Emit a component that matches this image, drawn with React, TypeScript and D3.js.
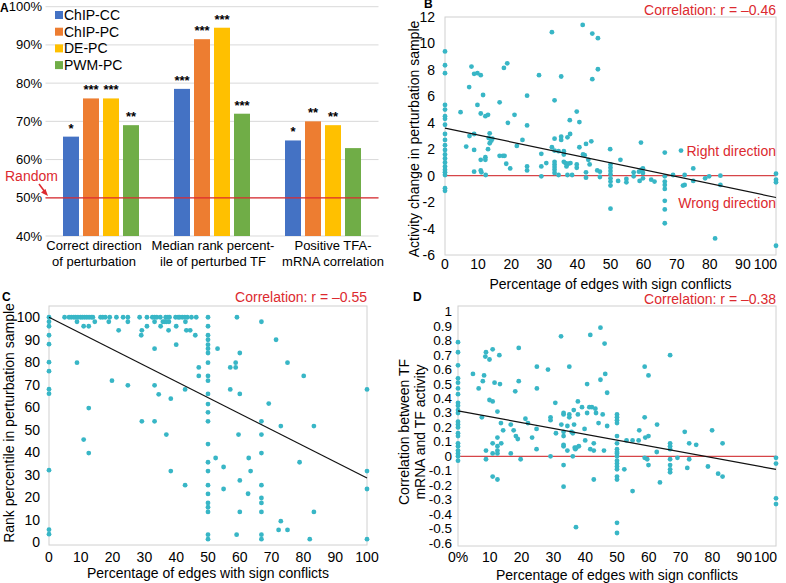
import React from 'react'
import * as d3 from 'd3'

const FONT = '"Liberation Sans", Arial, Helvetica, sans-serif'
const RED = '#dc2a2f'
const LINE_RED = '#d64548'
const DOT = '#38b6c6'

// ---- panel A data ----
const categoryLines = [
  ['Correct direction', 'of perturbation'],
  ['Median rank percent-', 'ile of perturbed TF'],
  ['Positive TFA-', 'mRNA correlation'],
]
const seriesNames = ['ChIP-CC', 'ChIP-PC', 'DE-PC', 'PWM-PC']
const seriesColors = ['#4472C4', '#ED7D31', '#FFC000', '#70AD47']
const chipCC = [66, 78.5, 65]
const chipPC = [76, 91.5, 70]
const dePC = [76, 94.5, 69]
const pwmPC = [69, 72, 63]
const chipCCStars = ['*', '***', '*']
const chipPCStars = ['***', '***', '**']
const dePCStars = ['***', '***', '**']
const pwmPCStars = ['**', '***', '']
const aTicks = [40, 50, 60, 70, 80, 90, 100]
const randomLevel = 50

// ---- panel B data: [% edges with sign conflicts, activity change] ----
const bPoints: [number, number][] = [
  [0, 9.4], [0, 8.35], [0, 7.75], [0, 5.35], [0, 5.0], [0, 4.5], [0, 4.3], [0, 3.85], [0, 3.15], [0, 2.7], [0, 2.3],
  [0, 1.95], [0, 1.6], [0, 1.3], [0, 1.0], [0, 0.7], [0, 0.45], [0, 0.25], [0, 0.05], [0, -0.95], [0, -1.15],
  [4.7, 4.8], [6.4, 2.2], [7.3, 6.7], [7.4, 3.0], [8.0, 8.25], [8.8, 7.7], [8.8, 3.15], [8.8, 1.95], [8.8, 0.3],
  [9.8, 7.75], [9.8, 5.35], [10.8, 7.6], [10.8, 4.7], [10.8, 1.2], [10.8, 0.4], [11.0, 0.25], [11.5, 6.1], [12.2, 4.5],
  [12.2, 1.4], [12.2, 1.2], [12.3, 0.05], [13.0, 4.6], [13.5, 3.2], [13.2, 2.85], [13.5, 2.45], [13.0, 2.0], [14.0, 2.65],
  [14.3, 2.8], [16.5, 5.55], [16.5, 1.5], [17.5, 1.5], [18.0, 1.5], [17.8, 8.15], [18.8, 8.5], [18.5, 0.9], [19.0, 4.0],
  [19.7, 0.55], [21.0, 4.6], [21.7, 2.25], [23.4, 2.7], [24.8, 6.05], [24.8, 3.8], [24.8, 0.7], [24.8, 0.4],
  [28.4, 7.6], [29.1, 1.65], [29.1, 0.7], [29.1, -0.05], [30.6, 0.95], [32.3, 10.85], [33.1, 5.7], [33.1, 2.8],
  [32.3, 2.15], [33.1, 1.9], [33.1, 1.05], [33.1, 0.85], [33.1, 0.65], [33.1, 0.45], [33.1, 0.2], [34.3, 1.85],
  [34.3, 0.05], [35.1, 7.5], [35.1, 2.95], [35.1, 2.7], [35.9, 1.85], [35.9, 1.6], [35.9, 1.05], [36.4, 0.95],
  [36.7, 0.7], [37.0, 2.9], [37.8, 3.15], [37.7, 4.2], [37.2, 0.9], [37.9, 0.95], [37.0, 0.05], [38.4, 0.05],
  [39.8, 4.85], [40.6, 4.05], [40.6, 2.15], [39.8, 0.85], [39.8, 0.6], [41.6, 11.4], [41.7, 1.6], [42.2, 1.55],
  [42.6, 2.4], [42.6, 0.25], [42.6, -0.15], [44.2, 2.6], [43.7, 0.85], [43.3, 1.2], [44.5, 10.75], [44.5, 7.3],
  [46.2, 10.4], [46.2, 8.05], [46.0, 0.4], [46.8, 0.3], [46.8, -0.1],
  [49.9, 2.0], [50, 0.85], [50, 0.6], [50, 0.35], [50, 0.1], [50, -0.2], [50, -0.45], [50, -0.75], [50, -2.5],
  [52.3, -0.4], [53.0, 1.2], [54.8, -0.25], [54.8, -0.5], [57.0, 0.25], [57.0, -0.05], [58.6, 0.3], [58.8, -0.4],
  [59.2, 2.5], [59.3, 0.45], [59.8, 0.55], [59.8, 0.2], [59.8, -0.2], [62.3, -0.3], [63.3, -0.45],
  [66.4, 1.75], [66.4, -0.05], [66.4, -0.45], [66.4, -0.7], [66.4, -1.0], [66.4, -1.9], [66.4, -2.55], [66.4, -3.6],
  [68.9, 0.05], [71.3, 1.9], [72.4, 0.05], [72.4, -0.7], [71.9, -0.75], [75.0, 0.55], [75.0, -0.4], [78.6, -0.2],
  [79.8, -0.05], [81.6, -4.75], [83.2, 0], [83.2, -0.7], [100, 0.15], [100, -0.3], [100, -0.5], [100, -5.3],
]
const bFit = [3.6, -1.65]
const bTicksY = [-6, -4, -2, 0, 2, 4, 6, 8, 10, 12]

// ---- panel C data: [% edges with sign conflicts, rank percentile] ----
const cPoints: [number, number][] = [
  [0, 100], [0, 98], [0, 96], [0, 92], [0, 88], [0, 80], [0, 76], [0, 68], [0, 66], [0, 32], [0, 5.5], [0, 3.5],
  [4.9, 100], [6.3, 100], [7.0, 100], [7.8, 100], [8.4, 100], [9.1, 100], [9.9, 100], [10.5, 100], [11.2, 100],
  [11.9, 100], [12.6, 100], [13.3, 100], [13.8, 100], [16.2, 100], [16.9, 100], [17.7, 100], [19.1, 100], [21.2, 100],
  [23.3, 100], [24.8, 100], [28.5, 100], [30.8, 100], [32.5, 100], [33.2, 100], [33.9, 100], [35.0, 100], [36.7, 100],
  [37.4, 100], [37.9, 100], [39.8, 100], [40.6, 100], [41.1, 100], [41.9, 100], [42.7, 100], [43.5, 100], [44.8, 100],
  [46.3, 100],
  [8.8, 98], [14.4, 98], [18.8, 98], [24.8, 98], [33.2, 98], [35.8, 98], [36.4, 98], [36.9, 98], [37.7, 98], [42.9, 98],
  [10.9, 96], [12.5, 96], [30.8, 96], [35.1, 96], [40.0, 96],
  [21.9, 94.2], [29.2, 94.2], [37.6, 94.2], [43.2, 94.2], [44.4, 94.2], [29.0, 92], [46.0, 92],
  [40.0, 87.8], [33.2, 86], [8.8, 79.8], [47.1, 77.7], [47.1, 73.9], [19.8, 71.8], [24.8, 69.7], [33.2, 69.7],
  [42.8, 67.9], [34.5, 65.7], [38.3, 63.8], [12.5, 59.6], [29.2, 53.7], [33.2, 53.7], [36.9, 47.8], [10.9, 45.6],
  [12.5, 39.6], [38.3, 31.6], [42.8, 25.3],
  [50, 100], [50, 96], [50, 92], [50, 90], [50, 87.8], [50, 86], [50, 84.1], [50, 79.8], [50, 73.9], [50, 71.8],
  [50, 65.9], [50, 61.4], [50, 57.7], [50, 53.7], [50, 43.6], [50, 35.5], [50, 31.6], [50, 25.3], [50, 21.4],
  [50, 17.4], [50, 15.5], [50, 13.4], [50, 3.3], [50, 1.3],
  [53.0, 86], [52.4, 37.4], [54.9, 33.4], [54.9, 23.6], [57.0, 77.7], [57.0, 67.9], [58.7, 79.8], [58.7, 77.7],
  [59.1, 100], [59.0, 3.3], [59.6, 47.8], [60.0, 84.1], [60.0, 65.9], [60.0, 27.4], [60.0, 13.4], [62.6, 21.5],
  [62.8, 37.4], [63.4, 31.6], [66.8, 98], [66.8, 53.7], [66.8, 47.8], [66.8, 39.6], [66.8, 25.3], [66.8, 19.6],
  [66.8, 17.4], [66.8, 13.4], [66.8, 3.3], [66.8, 1.3], [69.1, 61.6], [71.4, 90], [72.2, 5.4], [72.9, 9.3],
  [72.9, 51.6], [75.0, 79.8], [75.0, 5.4], [78.8, 35.5], [80.1, 73.9], [82.0, 1.3], [83.3, 51.6], [83.3, 13.4],
  [100, 67.9], [100, 31.6], [100, 23.6], [100, 1.3],
]
const cFit = [100, 28.5]
const cTicksY = [0, 10, 20, 30, 40, 50, 60, 70, 80, 90, 100]

// ---- panel D data: [% edges with sign conflicts, TF mRNA vs activity correlation] ----
const dPoints: [number, number][] = [
  [0, 0.79], [0, 0.72], [0, 0.63], [0, 0.54], [0, 0.51], [0, 0.47], [0, 0.43], [0, 0.37], [0, 0.35], [0, 0.32],
  [0, 0.3], [0, 0.24], [0, 0.22], [0, 0.2], [0, 0.16], [0, 0.14], [0, 0.09], [0, 0.07], [0, 0.04], [0, 0.02],
  [0, 0.0], [0, -0.03],
  [4.7, 0.57], [6.5, 0.47], [7.5, 0.27], [7.8, 0.52], [8.2, 0.56], [8.6, 0.69], [8.8, 0.72], [8.8, 0.04], [8.8, -0.02],
  [9.9, 0.67], [9.9, 0.39], [10.9, 0.74], [10.9, 0.38], [10.9, 0.09], [10.9, 0.02], [10.9, -0.14], [11.5, 0.51],
  [12.4, 0.31], [12.4, 0.13], [12.4, 0.07], [12.4, 0.04], [12.4, 0.02], [12.4, -0.16], [13.0, 0.7], [13.2, 0.5],
  [13.5, 0.23], [13.6, 0.09], [14.2, 0.18], [16.6, 0.22], [16.6, 0.02], [17.5, 0.18], [18.0, 0.45], [18.2, 0.14],
  [18.8, 0.12], [19.1, 0.75], [19.1, 0.52], [19.7, -0.02], [21.2, 0.26], [22.0, 0.23], [23.3, 0.13], [24.8, 0.62],
  [24.8, 0.47], [24.7, 0.19], [24.7, 0.05], [28.3, 0.6], [29.1, 0.27], [29.1, 0.25], [29.1, 0.0], [30.6, 0.37],
  [30.8, 0.16], [32.4, 0.83], [32.5, 0.22], [33.2, 0.3], [33.2, 0.29], [33.2, 0.17], [33.2, 0.14], [33.2, 0.08],
  [33.2, 0.07], [33.2, -0.06], [33.2, -0.21], [34.4, 0.21], [34.4, 0.04], [35.0, 0.62], [35.0, 0.29], [35.0, 0.27],
  [35.7, 0.17], [36.1, 0.16], [36.1, 0.0], [36.4, 0.32], [36.5, 0.22], [36.7, 0.06], [36.9, 0.05], [37.1, -0.49],
  [37.2, 0.06], [37.7, 0.38], [37.7, 0.29], [38.0, 0.07], [39.0, 0.34], [39.8, 0.19], [40.0, 0.11], [40.6, 0.5],
  [40.6, 0.3], [41.3, 0.34], [41.6, 0.84], [41.6, 0.05], [42.1, 0.34], [42.7, 0.04], [42.7, -0.16], [42.7, 0.09],
  [43.2, 0.33], [43.4, 0.3], [44.2, 0.23], [44.8, 0.89], [44.8, 0.53], [45.5, 0.29], [45.9, 0.04], [46.1, 0.78],
  [46.3, 0.57], [46.9, 0.44], [46.9, 0.21],
  [50, 0.29], [50, 0.27], [50, 0.25], [50, 0.23], [50, 0.14], [50, 0.09], [50, 0.05], [50, 0.03], [50, 0.02],
  [50, 0.0], [50, -0.03], [50, -0.05], [50, -0.07], [50, -0.09], [50, -0.14], [50, -0.16], [50, -0.46], [50, -0.53],
  [52.3, -0.09], [53.0, 0.11], [54.9, 0.11], [54.9, -0.24], [56.8, 0.11], [57.0, 0.18], [58.7, 0.62], [58.7, 0.27],
  [58.7, -0.01], [58.9, 0.13], [59.5, -0.02], [59.9, 0.56], [59.9, 0.14], [59.9, -0.06], [62.6, 0.22], [62.5, 0.03],
  [63.5, -0.18], [66.7, 0.7], [66.7, 0.09], [66.7, 0.07], [66.7, 0.05], [66.7, -0.02], [66.7, -0.06], [66.7, -0.09],
  [66.7, -0.11], [69.0, -0.01], [71.3, 0.17], [72.1, -0.08], [72.7, 0.09], [72.7, -0.02], [74.9, 0.08], [78.6, -0.07],
  [79.9, 0.18], [81.8, -0.12], [83.2, 0.09], [83.2, -0.14], [100, -0.01], [100, -0.05], [100, -0.29], [100, -0.33],
]
const dFit = [0.315, -0.09]
const dTicksY = [-0.6, -0.5, -0.4, -0.3, -0.2, -0.1, 0, 0.1, 0.2, 0.3, 0.4, 0.5, 0.6, 0.7, 0.8, 0.9, 1]

const xTicks = [0, 10, 20, 30, 40, 50, 60, 70, 80, 90, 100]
const xTitle = 'Percentage of edges with sign conflicts'

function BarPanel() {
  const y = d3.scaleLinear().domain([40, 100]).range([236, 6.7])
  const x0 = d3.scaleBand<number>().domain([0, 1, 2]).range([45.5, 378.5])
  const x1 = d3.scaleBand().domain(seriesNames).range([17.5, 93.5]).paddingInner(0.2)
  // Excel nudged the wrapped category labels a little off the group centres
  const labelShift = [-7, 1, 10]
  const series = [
    { name: 'ChIP-CC', values: chipCC, stars: chipCCStars },
    { name: 'ChIP-PC', values: chipPC, stars: chipPCStars },
    { name: 'DE-PC', values: dePC, stars: dePCStars },
    { name: 'PWM-PC', values: pwmPC, stars: pwmPCStars },
  ]
  return (
    <g>
      {aTicks.map(t => (
        <g key={t}>
          <line x1={45.5} x2={378.5} y1={y(t)} y2={y(t)} stroke="#d9d9d9" />
          <text x={42} y={y(t)} textAnchor="end" dominantBaseline="central" fontSize={13}>{t}%</text>
        </g>
      ))}
      <text x={0} y={12} fontSize={12} fontWeight="bold">A</text>
      {series.map((s, i) =>
        s.values.map((v, j) => {
          const bx = (x0(j) ?? 0) + (x1(s.name) ?? 0)
          return (
            <g key={s.name + j}>
              <rect x={bx} y={y(v)} width={x1.bandwidth()} height={y(40) - y(v)} fill={seriesColors[i]} />
              <text x={bx + x1.bandwidth() / 2} y={y(v) - 4} textAnchor="middle" fontSize={13} fontWeight="bold">{s.stars[j]}</text>
            </g>
          )
        })
      )}
      <line x1={45.5} x2={378.5} y1={y(randomLevel)} y2={y(randomLevel)} stroke={RED} strokeWidth={1.3} />
      <text x={5} y={176} dominantBaseline="central" fontSize={14} fill={RED}>Random</text>
      <line x1={39} y1={184} x2={45} y2={192} stroke={RED} strokeWidth={1.5} />
      <path d="M48,196 L41,192.5 L45.5,189 Z" fill={RED} />
      {categoryLines.map((lines, j) => {
        const cx = (x0(j) ?? 0) + x0.bandwidth() / 2 + labelShift[j]
        return (
          <text key={j} textAnchor="middle" fontSize={13}>
            <tspan x={cx} y={250}>{lines[0]}</tspan>
            <tspan x={cx} y={266}>{lines[1]}</tspan>
          </text>
        )
      })}
      {seriesNames.map((n, i) => (
        <g key={n}>
          <rect x={55} y={11 + i * 16.7} width={8} height={8} fill={seriesColors[i]} />
          <text x={64} y={15 + i * 16.7} dominantBaseline="central" fontSize={14}>{n}</text>
        </g>
      ))}
    </g>
  )
}

type ScatterProps = {
  points: [number, number][]
  fit: number[]
  frame: { l: number; t: number; r: number; b: number }
  yDomain: [number, number]
  yRange: [number, number]
  yTicks: number[]
  yFmt: (v: number) => string
  xFmt: (v: number) => string
  tickSize: number
  lastInside: boolean
  yLabelX: number
  xLabelY: number
  xTitleY: number
  corr: string
  corrY: number
  letter: string
  letterX: number
  letterY: number
  yTitle: string[]
  yTitleX: number[]
  yTitleY: number
  refY: number | null
}

function Scatter(p: ScatterProps) {
  const x = d3.scaleLinear().domain([0, 100]).range([p.frame.l, p.frame.r])
  const y = d3.scaleLinear().domain(p.yDomain).range(p.yRange)
  const { l, t, r, b } = p.frame
  return (
    <g>
      <rect x={l} y={t} width={r - l} height={b - t} fill="none" stroke="#d0d0d0" />
      {p.yTicks.map(v => (
        <text key={v} x={p.yLabelX} y={y(v)} textAnchor="end" dominantBaseline="central" fontSize={p.tickSize}>{p.yFmt(v)}</text>
      ))}
      {xTicks.map(v => {
        const inside = p.lastInside && v === 100
        return (
          <text key={v} x={inside ? x(v) + 1 : x(v)} y={p.xLabelY} textAnchor={inside ? 'end' : 'middle'}
            dominantBaseline="central" fontSize={14}>{p.xFmt(v)}</text>
        )
      })}
      {p.refY !== null && (
        <line x1={l} x2={r} y1={y(p.refY)} y2={y(p.refY)} stroke={LINE_RED} strokeWidth={1.3} />
      )}
      {p.points.map((d, i) => (
        <circle key={i} cx={x(d[0])} cy={y(d[1])} r={2.4} fill={DOT} />
      ))}
      <line x1={x(0)} x2={x(100)} y1={y(p.fit[0])} y2={y(p.fit[1])} stroke="#111" strokeWidth={1.2} />
      <text x={r} y={p.corrY} textAnchor="end" dominantBaseline="central" fontSize={14} fill={RED}>{p.corr}</text>
      <text x={p.letterX} y={p.letterY} fontSize={12} fontWeight="bold">{p.letter}</text>
      <text x={(l + r) / 2} y={p.xTitleY} textAnchor="middle" dominantBaseline="central" fontSize={14}>{xTitle}</text>
      {p.yTitle.map((s, i) => (
        <text key={i} transform={`translate(${p.yTitleX[i]},${p.yTitleY}) rotate(-90)`} textAnchor="middle"
          dominantBaseline="central" fontSize={14}>{s}</text>
      ))}
    </g>
  )
}

const plain = (v: number) => String(Math.round(v * 10) / 10)

export default function App() {
  return (
    <svg width={786} height={583} style={{ position: 'absolute', left: 0, top: 0, background: '#fff' }} fontFamily={FONT}>
      <rect width={786} height={583} fill="#fff" />
      <BarPanel />
      <Scatter
        points={bPoints} fit={bFit} frame={{ l: 445, t: 17, r: 776, b: 255 }}
        yDomain={[-6, 12]} yRange={[255, 17]} yTicks={bTicksY} yFmt={plain} xFmt={plain} tickSize={14} lastInside={true}
        yLabelX={435} xLabelY={264} xTitleY={284}
        corr="Correlation: r = –0.46" corrY={10} letter="B" letterX={424} letterY={8}
        yTitle={['Activity change in perturbation sample']} yTitleX={[414]} yTitleY={139} refY={0}
      />
      <text x={776} y={151} textAnchor="end" dominantBaseline="central" fontSize={14} fill={RED}>Right direction</text>
      <text x={776} y={203} textAnchor="end" dominantBaseline="central" fontSize={14} fill={RED}>Wrong direction</text>
      <Scatter
        points={cPoints} fit={cFit} frame={{ l: 49, t: 306, r: 367, b: 545 }}
        yDomain={[-1.3, 105]} yRange={[545, 306]} yTicks={cTicksY} yFmt={plain} xFmt={plain} tickSize={14} lastInside={false}
        yLabelX={40} xLabelY={557} xTitleY={573}
        corr="Correlation: r = –0.55" corrY={297} letter="C" letterX={2} letterY={301}
        yTitle={['Rank percentile in perturbation sample']} yTitleX={[9]} yTitleY={423} refY={null}
      />
      <Scatter
        points={dPoints} fit={dFit} frame={{ l: 458, t: 306, r: 776, b: 546 }}
        yDomain={[-0.62, 1.04]} yRange={[546, 306]} yTicks={dTicksY} yFmt={plain}
        xFmt={v => (v === 0 ? '0%' : String(v))} tickSize={13.5} lastInside={true}
        yLabelX={452} xLabelY={557} xTitleY={575}
        corr="Correlation: r = –0.38" corrY={299} letter="D" letterX={413} letterY={301}
        yTitle={['Correlation between TF', 'mRNA and TF activity']} yTitleX={[404, 420]} yTitleY={432} refY={0}
      />
    </svg>
  )
}
